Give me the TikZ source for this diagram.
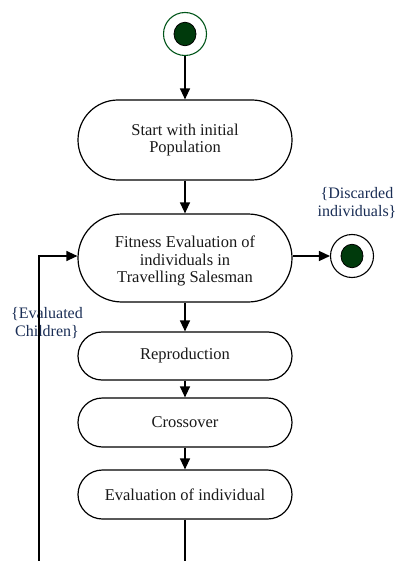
\documentclass[tikz,border=0pt]{standalone}
\usepackage{fontspec}
\setmainfont{Liberation Serif}
\usetikzlibrary{arrows.meta,positioning,shapes.geometric}
\definecolor{dkgreen}{RGB}{0,58,12}
\definecolor{ringgreen}{RGB}{0,85,25}
\definecolor{labelblue}{RGB}{25,45,85}
\definecolor{txt}{RGB}{25,25,25}
\tikzset{
  act/.style={draw=black, line width=1.2pt, fill=white, minimum width=214pt, align=center,
    text=txt, font=\fontsize{16.5}{17.5}\selectfont, inner sep=0pt},
  flow/.style={draw=black, line width=1.3pt, -{Triangle[length=11pt,width=10pt]}},
  plain/.style={draw=black, line width=1.3pt},
  lbl/.style={align=center, text=labelblue, font=\fontsize{16}{17.5}\selectfont, inner sep=0pt},
  dot/.style={ellipse, draw=black, line width=0.8pt, fill=dkgreen, minimum width=22pt, minimum height=23.5pt, inner sep=0pt},
}
\begin{document}
\begin{tikzpicture}[x=1pt,y=-1pt]
\useasboundingbox (0,0) rectangle (396,561);
% start
\node[circle, draw=ringgreen, line width=1.1pt, fill=white, minimum size=43pt, inner sep=0pt] (st) at (185,34) {};
\node[dot] (stdot) at (185,34) {};
% activities
\node[act, minimum height=80pt, rounded corners=40pt] (init) at (185,140) {Start with initial\\Population};
\node[act, minimum height=88pt, rounded corners=44pt] (fit) at (185,258) {};
\node[act, draw=none, fill=none] (fittext) at (185,261) {Fitness Evaluation of\\individuals in\\Travelling Salesman};
\node[act, minimum height=48pt, rounded corners=24pt] (rep) at (185,356) {Reproduction};
\node[act, minimum height=49pt, rounded corners=24.5pt] (cro) at (185,422.5) {Crossover};
\node[act, minimum height=49pt, rounded corners=24.5pt] (eva) at (185,494.5) {Evaluation of individual};
% end
\node[circle, draw=black, line width=1.1pt, fill=white, minimum size=43pt, inner sep=0pt] (en) at (352,256) {};
\node[dot] (endot) at (352,256) {};
% labels
\node[lbl] (dl) at (357,203) {\{Discarded\\individuals\}};
\node[lbl] (el) at (47,323) {\{Evaluated\\Children\}};
% connectors
\coordinate (lb) at (39,561);
\coordinate (bb) at (185,561);
\draw[flow] (st) -- (init);
\draw[flow] (init) -- (fit);
\draw[flow] (fit.east |- en) -- (en);
\draw[flow] (fit) -- (rep);
\draw[flow] (rep) -- (cro);
\draw[flow] (cro) -- (eva);
\draw[plain] (eva) -- (bb);
\draw[flow] (lb) |- (fit.west |- en);
\end{tikzpicture}
\end{document}
